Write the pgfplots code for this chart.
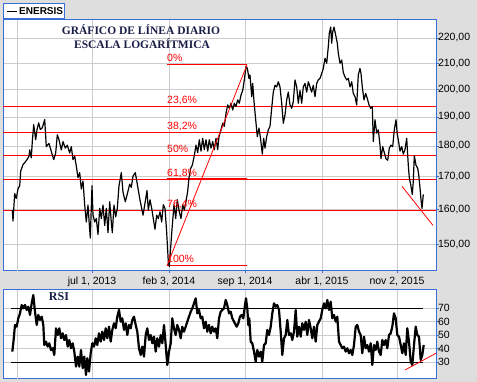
\documentclass[border=0pt]{standalone}
\usepackage{pgfplots}
\pgfplotsset{compat=1.18}
\usepackage{fontspec}
\setmainfont{Liberation Sans}
\newfontfamily\titlefont{Liberation Serif}
\definecolor{bggray}{RGB}{221,222,221}
\definecolor{frameblue}{RGB}{58,110,215}
\definecolor{gridgray}{RGB}{204,204,204}
\definecolor{navy}{RGB}{25,30,70}
\definecolor{fibred}{RGB}{255,0,0}
\begin{document}
\begin{tikzpicture}[x=1pt,y=1pt]
\fill[bggray] (0,0) rectangle (477,382);
\useasboundingbox (0,0) rectangle (477,382);
\pgfplotsset{
  common/.style={
    scale only axis, xmin=3, xmax=436,
    axis background/.style={fill=white},
    axis line style={frameblue, line width=1pt},
    tick style={frameblue, line width=0.8pt},
    tick align=outside, major tick length=2.5pt,
    xtick={92,169,245,322,397},
    extra x ticks={17}, extra x tick labels={},
    extra x tick style={major tick length=0pt, grid=major},
    xtick pos=bottom, ytick pos=right, yticklabel pos=right,
    grid=major, grid style={gridgray, line width=0.8pt},
    tick label style={font=\fontsize{10.5}{12}\selectfont},
    /pgf/number format/assume math mode=true,
    yticklabel style={xshift=-4pt},
    clip=true,
  }
}
% ---------------- main price panel ----------------
\begin{axis}[common,
  at={(3pt,111pt)}, anchor=south west,
  width=433pt, height=251pt,
  ymode=log, ymin=142.7, ymax=227.5,
  xticklabels={{jul 1, 2013},{feb 3, 2014},{sep 1, 2014},{abr 1, 2015},{nov 2, 2015}},
  ytick={150,160,170,180,190,200,210,220},
  yticklabels={{150,00},{160,00},{170,00},{180,00},{190,00},{200,00},{210,00},{220,00}},
  minor tick num=0,
]
% Fibonacci levels
\addplot[fibred, line width=1pt] coordinates {(167,209.3)(247,209.3)};
\addplot[fibred, line width=1pt] coordinates {(3,193.9)(436,193.9)};
\addplot[fibred, line width=1pt] coordinates {(3,184.5)(436,184.5)};
\addplot[fibred, line width=1pt] coordinates {(3,176.8)(436,176.8)};
\addplot[fibred, line width=1pt] coordinates {(3,169.3)(436,169.3)};
\addplot[fibred, line width=2pt] coordinates {(167,169.3)(247,169.3)};
\addplot[fibred, line width=1pt] coordinates {(3,159.7)(436,159.7)};
\addplot[fibred, line width=1pt] coordinates {(167,144.1)(247,144.1)};
% price
\addplot[black, line width=1.2pt, line join=round] coordinates {
(12.3,159.8)(13,156.6)(14.7,164.8)(16.3,163.3)(18,166.2)(19.7,167.2)(20.7,171.8)(23,173.9)(24.7,174.5)(27,175.5)(29,176.6)(29.7,178.7)(31.3,176.1)(32.3,181.5)(33.7,187.3)(35.7,182.1)(37,185.6)(38.7,187.9)(40.3,185.6)(42.3,186.2)(44.7,189.1)(46.3,179.8)(49,180.9)(51.3,178.2)(53.7,175.5)(55.7,177.7)(57.3,183.8)(59,182.1)(61.3,178.7)(63,181.5)(65.3,179.3)(67.3,180.3)(69.7,177.7)(71.3,179.8)(73,175.5)(74.7,176.6)(76.3,173.4)(78,169.7)(79.7,171.3)(81.3,166.2)(83,168.7)(84.7,161.3)(86.3,156.3)(88,161.3)(89,156.8)(90.3,151.7)(92,167.2)(93,158.3)(94.7,156.3)(96.3,157.3)(98,152.7)(99.7,160.3)(101.3,157.3)(103,161.3)(104.7,155.3)(106.3,160.3)(108,153.2)(109.7,162.3)(111.3,156.3)(112.3,153.2)(114,161.3)(115.7,157.8)(117.3,160.3)(119,167.2)(121.3,171.3)(123,165.2)(125.3,162.3)(127,164.3)(129.7,167.7)(131.3,166.7)(133,170.2)(135.3,171.3)(137.3,167.7)(139.7,163.3)(143,158.3)(144.7,161.3)(147,165.7)
(148.3,159.8)(150,162.9)(151.7,160.3)(153.3,157.3)(155,154.2)(156.7,158.3)(158.3,157.3)(160,159.3)(161.7,156.3)(163.3,161.4)(165,160.3)(166.7,153.2)(168.3,145.2)(169.3,143.9)(170.7,149.2)(172.3,155.3)(174,161.4)(175.7,157.3)(177.3,162.9)(179.3,159.3)(181,157.3)(182.7,161.4)(184.3,159.8)(186,162.4)(187.7,165.5)(189,169.7)(190.7,172.7)(192.3,173.7)(194.3,176.8)(196,180.3)(197.7,177.8)(199.3,182.1)(201,178.3)(202.7,182.6)(204.3,178.8)(206,182.1)(207.7,178.3)(209.3,182.1)(211,179.3)(212.7,181.5)(214.3,178.8)(216,182.6)(217.7,178.8)(219,183.2)(221,185.5)(222.7,187.8)(224.3,186.7)(226,191.3)(227.7,194.3)(229.3,193.1)(231,194.9)(232.7,192.5)(234.3,194.9)(236,193.7)(237.7,196.1)(239.3,194.9)(241,197.9)(242.7,199.6)(244.3,203.5)(246,208.6)(247.3,208.0)(249,204.1)(250,205.4)(251.7,197.3)(252.7,202.2)(254,195.5)(255.7,189.0)(257.3,183.2)(259,186.1)(260.7,182.1)(262.3,177.3)(263.7,182.6)(265,179.3)(266.7,183.2)(268.3,185.5)(270,186.7)(271.7,193.1)(273.3,199.0)(275,201.5)(276.7,200.9)(278.3,202.8)(280,200.9)(281.7,194.9)(283.3,187.8)(285,190.7)(286.7,196.1)(288.3,199.0)
(290,194.3)(291.7,193.1)(293.3,195.5)(295,203.5)(296.7,200.9)(298.3,194.9)(300,199.6)(301.7,194.9)(303.3,200.9)(305,202.2)(306.7,199.0)(308.3,202.8)(310,200.9)(311.7,199.0)(313.3,201.5)(315,197.3)(316.7,202.2)(318.3,203.5)(320,204.1)(321.7,206.0)(323.3,207.9)(325,211.9)(326.7,209.9)(328.3,216.5)(329.3,221.9)(330.7,224.5)(331.7,217.9)(332.7,222.5)(334,224.5)(335.7,221.2)(337.3,217.9)(338.3,213.9)(340,209.9)(341.7,211.2)(343.3,206.3)(345,204.7)(346.7,203.5)(348.3,204.1)(350,200.9)(351.7,202.8)(353.3,198.5)(355,197.3)(356.7,194.3)(358.3,205.4)(360,207.9)(361,206.0)(362.3,200.9)(364,196.1)(365.7,198.5)(367.3,196.7)(369,194.3)(370.7,193.1)(372.3,193.7)(373.3,181.5)(375,189.0)(376.7,184.4)(378.3,185.5)(380,180.3)(381,175.8)(382.7,179.8)(384.3,177.8)(386,175.8)(387.7,175.3)(389.3,179.3)(391,180.3)(392.7,179.8)(394.3,185.5)(396,189.0)(397.3,183.8)(398.3,182.1)(400,178.3)(401.7,179.8)(403.3,177.3)(405,178.8)(406.7,182.6)(408.3,173.7)(409.3,169.7)(410.7,167.6)(412.3,164.5)(413.3,168.6)(414.3,176.8)(416,173.7)(417.7,172.7)(418.7,170.7)(420,166.6)(421,162.9)(422,160.3)(423.3,164.5)
};
% trend lines
\addplot[fibred, line width=0.8pt] coordinates {(167,144.1)(247,209.3)};
\addplot[fibred, line width=0.8pt] coordinates {(402,167.0)(433,155.3)};
% labels
\begin{scope}[every node/.style={fibred, anchor=base west, inner sep=0pt, font=\fontsize{10.5}{12}\selectfont}]
\node at (axis cs:167,209.3) [yshift=3pt] {0\%};
\node at (axis cs:167,193.9) [yshift=3pt] {23,6\%};
\node at (axis cs:167,184.5) [yshift=3pt] {38,2\%};
\node at (axis cs:167,176.8) [yshift=3pt] {50\%};
\node at (axis cs:167,169.3) [yshift=3pt] {61,8\%};
\node at (axis cs:167,159.7) [yshift=3pt] {76,4\%};
\node at (axis cs:167,144.1) [yshift=3pt] {100\%};
\end{scope}
\end{axis}
% ---------------- RSI panel ----------------
\begin{axis}[common,
  at={(3pt,3pt)}, anchor=south west,
  width=433pt, height=89pt,
  ymin=17.6, ymax=83.6,
  xticklabels={},
  ytick={30,40,50,60,70},
  major x tick style={draw=none},
]
\addplot[black, line width=1pt] coordinates {(11,70)(423,70)};
\addplot[black, line width=1pt] coordinates {(11,30)(423,30)};
\addplot[black, line width=2.2pt, line join=round] coordinates {
(12.3,37.9)(13.3,44.1)(15,57.7)(16.7,56.4)(18.3,62.6)(20,66.3)(21.7,72.5)(23.3,70.0)(25,72.5)(26.7,68.8)(28.3,71.2)(30,65.1)(31.7,73.7)(33.3,79.9)(35,67.5)(36.7,57.7)(38.3,65.1)(40,61.4)(41.7,63.8)(43.3,57.7)(44.3,42.8)(46,45.3)(47.7,41.6)(49.3,44.1)(51,39.1)(52.7,40.4)(54.3,35.4)(56,55.2)(57.7,50.2)(59.3,55.2)(61,47.8)(62.7,51.5)(64.3,46.5)(66,50.2)(67.7,41.6)(69.3,46.5)(71,40.4)(72.7,44.1)(74.3,37.9)(76,26.8)(77.7,34.2)(79.3,26.8)(81,39.1)(82.7,25.6)(84.3,34.2)(86,20.6)(87.3,33.0)(89,23.1)(90.7,36.7)(92.3,44.1)(94,41.6)(95.7,47.8)(97.3,42.8)(99,51.5)(100.7,45.3)(102.3,52.7)(104,46.5)(105.7,55.2)(107.3,47.8)(109,56.4)(110.7,45.3)(112.3,54.0)(114,58.9)(115.7,55.2)(117.3,63.8)(119,68.8)(120.7,60.1)(122.3,62.6)(124,54.0)(125.7,58.9)(127.3,50.2)(129,57.7)(130.7,55.2)(132.3,61.4)(134,63.8)(135.7,57.7)(137.3,52.7)(139,40.4)(140.7,35.4)(142.3,41.6)(144,34.2)(145.7,50.2)(147.3,55.2)(149,46.5)(150.7,50.2)(152.3,44.1)(154,49.0)(155.7,37.9)(157.3,47.8)(159,41.6)(160.7,50.2)(162.3,44.1)(164,57.7)(165.7,42.8)(167.3,28.0)(169,37.9)(170.7,44.1)(172.3,62.6)(174,55.2)(175.7,50.2)(177.3,57.7)(179,54.0)(180.7,47.8)(182.3,56.4)(184,52.7)(185.7,56.4)(187.3,60.1)(189,63.8)(190.7,67.5)(192.3,70.0)(194,73.7)(195.7,77.4)(197.3,66.3)(199,68.8)(200.7,62.6)(202.3,63.8)(204,55.2)(205.7,60.1)(207.3,52.7)(209,57.7)(210.7,51.5)(212.3,56.4)(214,52.7)(215.7,55.2)(217.3,47.8)(219,62.6)(220.7,67.5)(222.3,68.8)(224,70.0)(225.7,76.2)(227.3,72.5)(229,66.3)(230.7,67.5)(232.3,62.6)(234,60.1)(236.7,56.4)(238.3,58.9)
(240,63.8)(241.7,65.1)(243.3,62.6)(245,72.5)(246,77.4)(247.3,70.0)(248.3,57.7)(249.3,62.6)(250.7,45.3)(252.3,44.1)(254,37.9)(255.7,30.5)(257.3,39.1)(259,34.2)(260.7,37.9)(262.3,30.5)(264,42.8)(265.7,44.1)(267.3,54.0)(269,50.2)(270.7,56.4)(272.3,66.3)(274,73.7)(275.7,71.2)(277.3,72.5)(279,68.8)(280.7,52.7)(282.3,35.4)(284,47.8)(285.7,50.2)(287.3,61.4)(289,50.2)(290.7,51.5)(292.3,46.5)(294,52.7)(295.7,68.8)(297.3,49.0)(299,56.4)(300.7,49.0)(302.3,58.9)(304,54.0)(305.7,60.1)(307.3,50.2)(309,61.4)(310.7,55.2)(312.3,47.8)(314,56.4)(315.7,45.3)(317.3,57.7)(319,60.1)(320.7,62.6)(322.3,68.8)(324,73.7)(325.7,70.0)(327.3,76.2)(329,68.8)(330.7,74.9)(332.3,62.6)(334,65.1)(335.7,60.1)(337.3,63.8)(339,45.3)(340.7,42.8)(342.3,40.4)(344,41.6)(345.7,37.9)(347.3,40.4)(349,36.7)(350.7,39.1)(352.3,35.4)(354,42.8)(355.7,56.4)(357.3,57.7)(359,52.7)(360.7,50.2)(362.3,36.7)(364,49.0)(365.7,40.4)(367.3,42.8)(369,37.9)(370.7,44.1)(372.3,28.0)(374,42.8)(375.7,39.1)(377.3,45.3)(379,37.9)(380.7,35.4)(382.3,46.5)(384,42.8)(385.7,46.5)(387.3,40.4)(389,50.2)(390.7,51.5)(392.3,56.4)(394,66.3)(395.7,62.6)(397.3,50.2)(399,49.0)(400.7,42.8)(402.3,36.7)(404,44.1)(405.7,35.4)(407.3,55.2)(409,45.3)(410.7,30.5)(412.3,28.0)(414,42.8)(415.7,56.4)(417.3,50.2)(419,49.0)(420.7,31.7)(422.3,35.4)(423.7,42.8)
};
\addplot[fibred, line width=0.8pt] coordinates {(405,24.3)(436,36.7)};
\end{axis}
% titles and legend
\node[navy, font=\titlefont\bfseries\fontsize{11.5}{14}\selectfont] at (141,352) {GRÁFICO DE LÍNEA DIARIO};
\node[navy, font=\titlefont\bfseries\fontsize{11.5}{14}\selectfont] at (142,338) {ESCALA LOGARÍTMICA};
\node[navy, font=\titlefont\bfseries\fontsize{12}{14}\selectfont] at (59,85) {RSI};
\draw[frameblue, fill=white, line width=0.8pt] (3.5,363.5) rectangle (64,378.5);
\draw[black, line width=0.8pt] (7,371) -- (17,371);
\node[anchor=west, inner sep=0pt, font=\bfseries\fontsize{10}{12}\selectfont] at (19,371) {ENERSIS};
\end{tikzpicture}
\end{document}
